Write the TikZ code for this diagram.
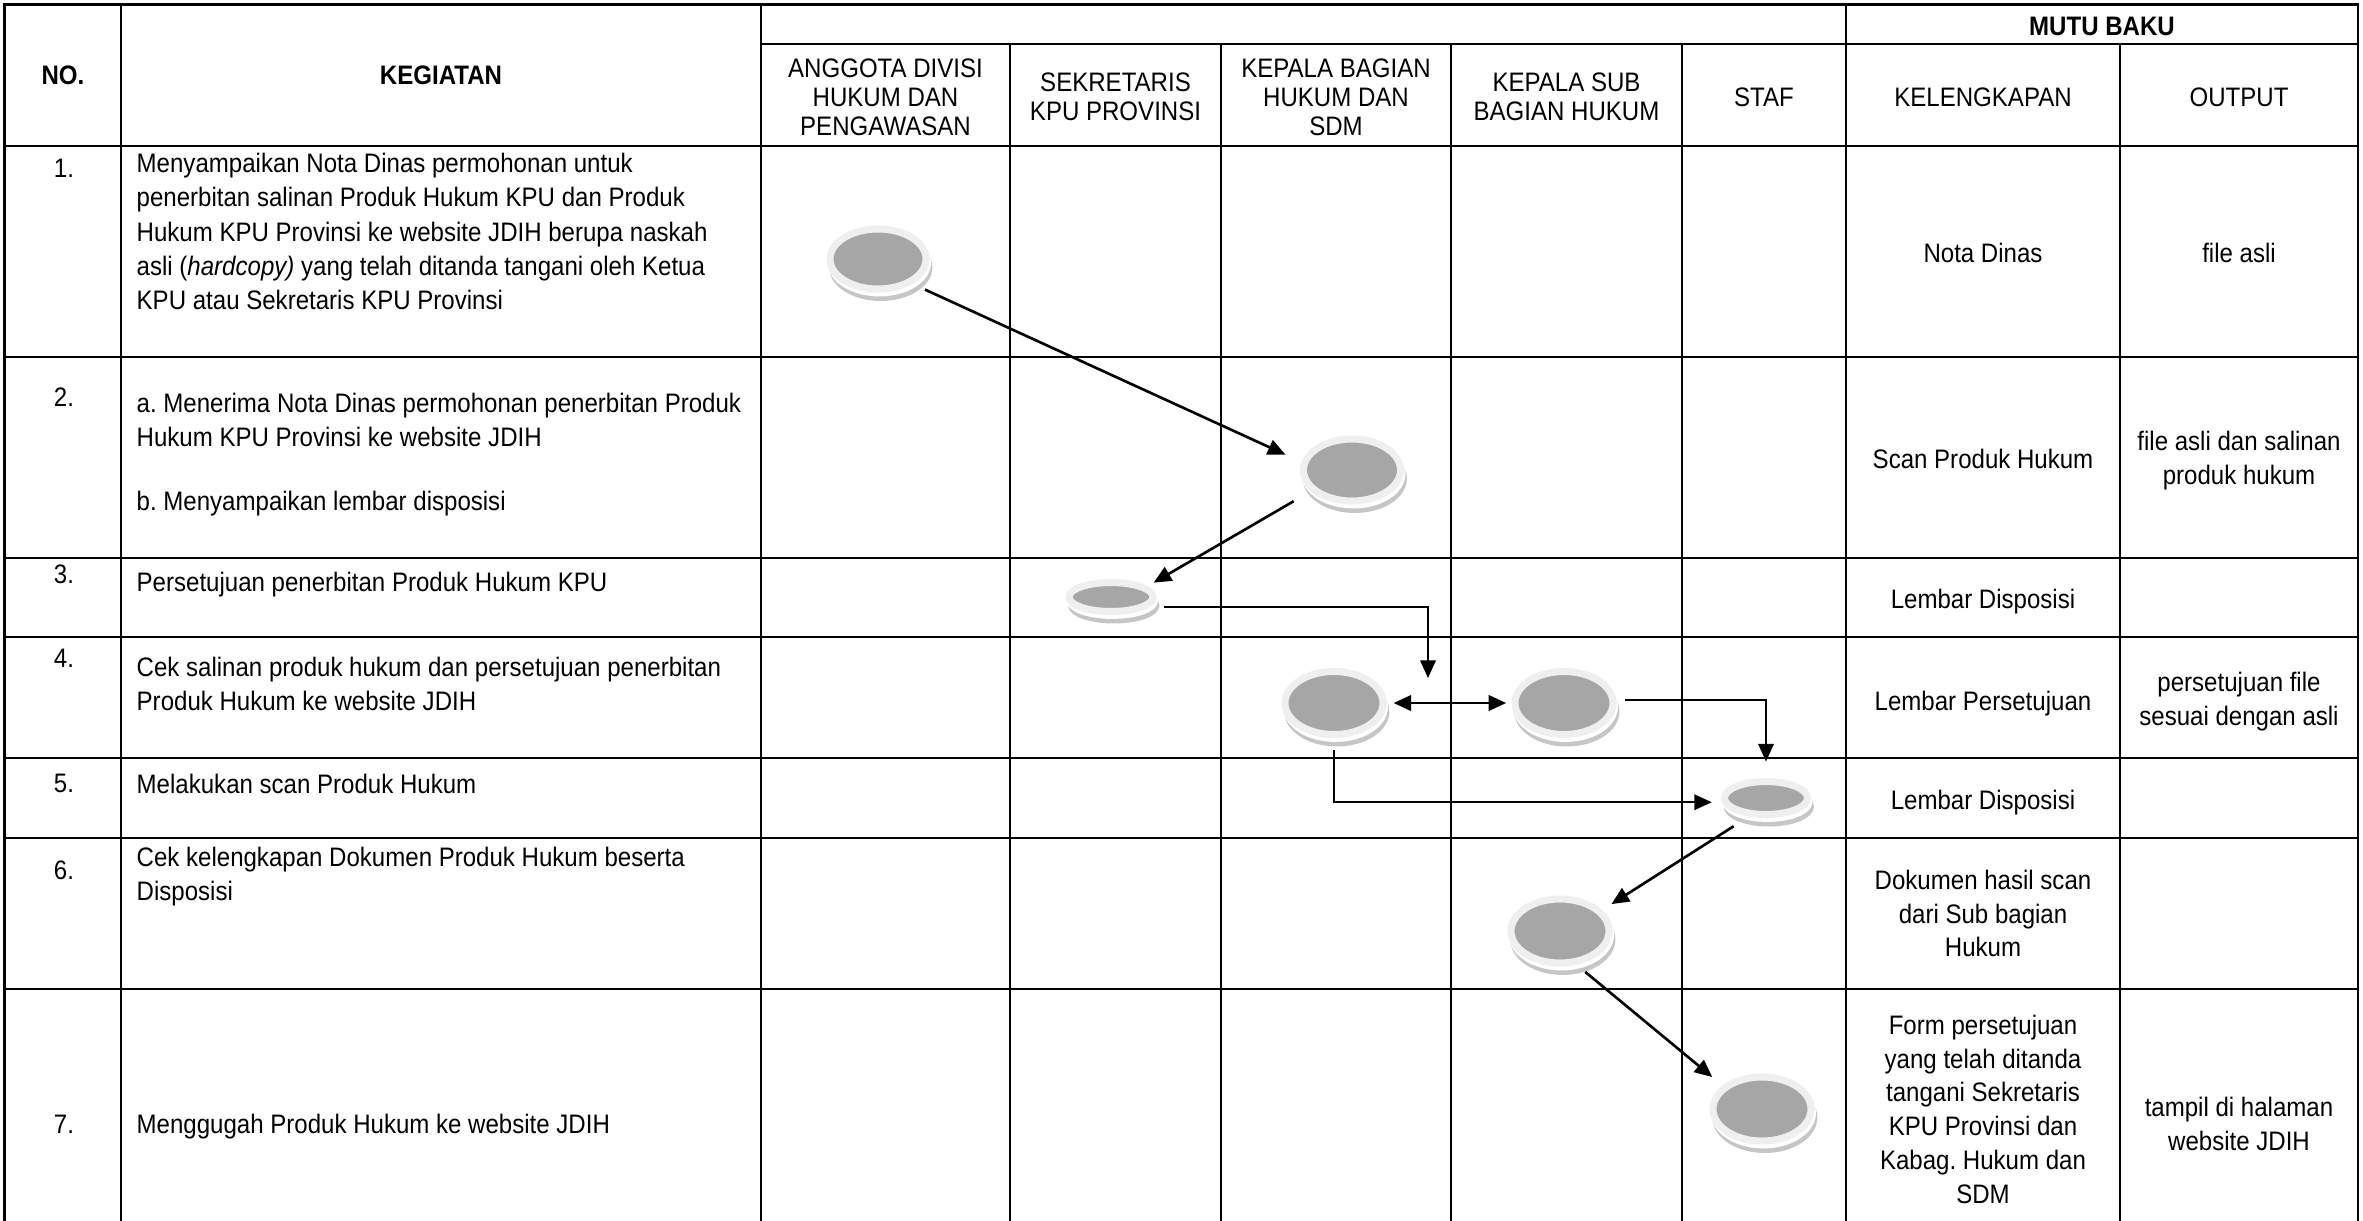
\documentclass[tikz,border=0pt]{standalone}
\usepackage{fontspec}
\setmainfont{Liberation Sans}[FakeStretch=0.9]
\usepackage{xcolor}
\usepackage{tikz}
\usetikzlibrary{arrows.meta,shapes.geometric}
\definecolor{isi}{HTML}{A6A6A6}
\definecolor{tepi}{HTML}{EFEFEF}
\definecolor{bayang}{HTML}{C6C6C6}
\frenchspacing

\begin{document}
\begin{tikzpicture}[x=0.01cm, y=-0.01cm,
      font=\fontsize{7.6pt}{9.6pt}\selectfont,
      garis/.style={line width=0.8pt, line cap=rect},
      kepala/.style={font=\fontsize{7.6pt}{9.6pt}\selectfont\bfseries, inner sep=0pt},
      peran/.style={align=center, inner sep=0pt, font=\fontsize{7.6pt}{8.3pt}\selectfont},
      nomor/.style={anchor=base, inner sep=0pt},
      uraian/.style={anchor=north west, align=left, inner sep=0pt, font=\fontsize{7.6pt}{9.8pt}\selectfont,
                     execute at begin node=\strut},
      mutu/.style={align=center, inner sep=0pt, execute at begin node=\strut, execute at end node=\strut},
      proses/.style={ellipse, inner sep=0pt, outer sep=0pt, fill=isi, draw=tepi, line width=2pt,
                     preaction={fill=bayang, draw=bayang, transform canvas={shift={(0.8pt,-2.4pt)}}},
                     preaction={fill=white, draw=white, transform canvas={shift={(0.4pt,-1.1pt)}}}},
      besar/.style={proses, minimum width=0.96cm, minimum height=0.60cm},
      kecil/.style={proses, minimum width=0.84cm, minimum height=0.29cm},
      seta/.style={-{Triangle[length=5pt,width=4.4pt]}, line width=0.75pt},
      siku/.style={-{Triangle[length=5pt,width=4.4pt]}, line width=0.55pt},
      dua/.style={{Triangle[length=5pt,width=4.4pt]}-{Triangle[length=5pt,width=4.4pt]}, line width=0.75pt}]
    \useasboundingbox (0,0) rectangle (2363,1220);
    % tabel
    \draw[garis] (4.5,4.5) -- (2358,4.5);
    \draw[garis] (761,44) -- (2358,44);
    \foreach \y in {146,357,558,637,758,838,989} \draw[garis] (4.5,\y) -- (2358,\y);
    \foreach \x in {4.5,121,761,1846,2358} \draw[garis] (\x,4.5) -- (\x,1220);
    \foreach \x in {1010,1221,1451,1682,2120} \draw[garis] (\x,44) -- (\x,1220);
    % kepala tabel
    \node[kepala] (hno) at (63,75) {NO.};
    \node[kepala] (hkeg) at (441,75) {KEGIATAN};
    \node[kepala] (hmutu) at (2102,26) {MUTU BAKU};
    \node[peran] (hagt) at (885.5,97) {ANGGOTA DIVISI\\ HUKUM DAN\\ PENGAWASAN};
    \node[peran] (hsek) at (1115.5,97) {SEKRETARIS\\ KPU PROVINSI};
    \node[peran] (hkab) at (1336,97) {KEPALA BAGIAN\\ HUKUM DAN\\ SDM};
    \node[peran] (hksb) at (1566.5,97) {KEPALA SUB\\ BAGIAN HUKUM};
    \node[peran] (hstf) at (1764,97) {STAF};
    \node[peran] (hlkp) at (1983,97) {KELENGKAPAN};
    \node[peran] (hout) at (2239,97) {OUTPUT};
    % nomor dan kegiatan
    \node[nomor] (n1) at (64,177) {1.};
    \node[nomor] (n2) at (64,406) {2.};
    \node[nomor] (n3) at (64,583) {3.};
    \node[nomor] (n4) at (64,667) {4.};
    \node[nomor] (n5) at (64,792) {5.};
    \node[nomor] (n6) at (64,879) {6.};
    \node[nomor] (n7) at (64,1133) {7.};
    \node[uraian] (k1) at (136,152) {Menyampaikan Nota Dinas permohonan untuk\\ penerbitan salinan Produk Hukum KPU dan Produk\\ Hukum KPU Provinsi ke website JDIH berupa naskah\\ asli (\textit{hardcopy)} yang telah ditanda tangani oleh Ketua\\ KPU atau Sekretaris KPU Provinsi};
    \node[uraian] (k2) at (136,392) {a. Menerima Nota Dinas permohonan penerbitan Produk\\ Hukum KPU Provinsi ke website JDIH\\[8.4pt] b. Menyampaikan lembar disposisi};
    \node[uraian] (k3) at (136,567) {Persetujuan penerbitan Produk Hukum KPU};
    \node[uraian] (k4) at (136,656) {Cek salinan produk hukum dan persetujuan penerbitan\\ Produk Hukum ke website JDIH};
    \node[uraian] (k5) at (136,769) {Melakukan scan Produk Hukum};
    \node[uraian] (k6) at (136,846) {Cek kelengkapan Dokumen Produk Hukum beserta\\ Disposisi};
    \node[uraian] (k7) at (136,1109) {Menggugah Produk Hukum ke website JDIH};
    % mutu baku
    \node[mutu] (l1) at (1983,256) {Nota Dinas};
    \node[mutu] (o1) at (2239,256) {file asli};
    \node[mutu] (l2) at (1983,462) {Scan Produk Hukum};
    \node[mutu] (o2) at (2239,463) {file asli dan salinan\\ produk hukum};
    \node[mutu] (l3) at (1983,602) {Lembar Disposisi};
    \node[mutu] (l4) at (1983,704) {Lembar Persetujuan};
    \node[mutu] (o4) at (2239,704) {persetujuan file\\ sesuai dengan asli};
    \node[mutu] (l5) at (1983,803) {Lembar Disposisi};
    \node[mutu] (l6) at (1983,918.5) {Dokumen hasil scan\\ dari Sub bagian\\ Hukum};
    \node[mutu] (l7) at (1983,1114) {Form persetujuan\\ yang telah ditanda\\ tangani Sekretaris\\ KPU Provinsi dan\\ Kabag. Hukum dan\\ SDM};
    \node[mutu] (o7) at (2239,1129) {tampil di halaman\\ website JDIH};
    % simbol proses
    \node[besar] (e1) at (878,259) {};
    \node[besar, minimum width=0.97cm, minimum height=0.62cm] (e2) at (1352,470) {};
    \node[kecil] (e3) at (1111,597) {};
    \node[besar, minimum width=0.98cm, minimum height=0.63cm] (e4) at (1334,703) {};
    \node[besar, minimum width=0.98cm, minimum height=0.63cm] (e5) at (1564,703) {};
    \node[kecil, minimum width=0.83cm, minimum height=0.33cm] (e6) at (1766,798) {};
    \node[besar, minimum width=0.98cm, minimum height=0.64cm] (e7) at (1560,931) {};
    \node[besar, minimum width=0.98cm, minimum height=0.64cm] (e8) at (1762,1109) {};
    \coordinate (ujung) at (1428,678);
    % alur
    \draw[seta, shorten <=5.1pt, shorten >=6pt] (e1.-37) -- (e2.172);
    \draw[seta, shorten <=6.7pt, shorten >=3.1pt] (e2.207) -- (e3.15);
    \draw[siku] ([xshift=3.1pt,yshift=-2.8pt]e3.east) -| (ujung);
    \draw[dua, shorten <=3pt, shorten >=2.5pt] (e4.east) -- (e5.west);
    \draw[siku, shorten >=5.7pt] ([xshift=3.4pt,yshift=0.8pt]e5.east) -| (e6.north);
    \draw[siku, shorten <=4.4pt, shorten >=3.6pt] (e4.south) |- ([yshift=-1.2pt]e6.west);
    \draw[seta, shorten <=6.6pt, shorten >=4.1pt] (e6.231) -- (e7.26);
    \draw[seta, shorten <=4.5pt, shorten >=4.8pt] (e7.-67) -- (e8.150);
  \end{tikzpicture}
\end{document}
